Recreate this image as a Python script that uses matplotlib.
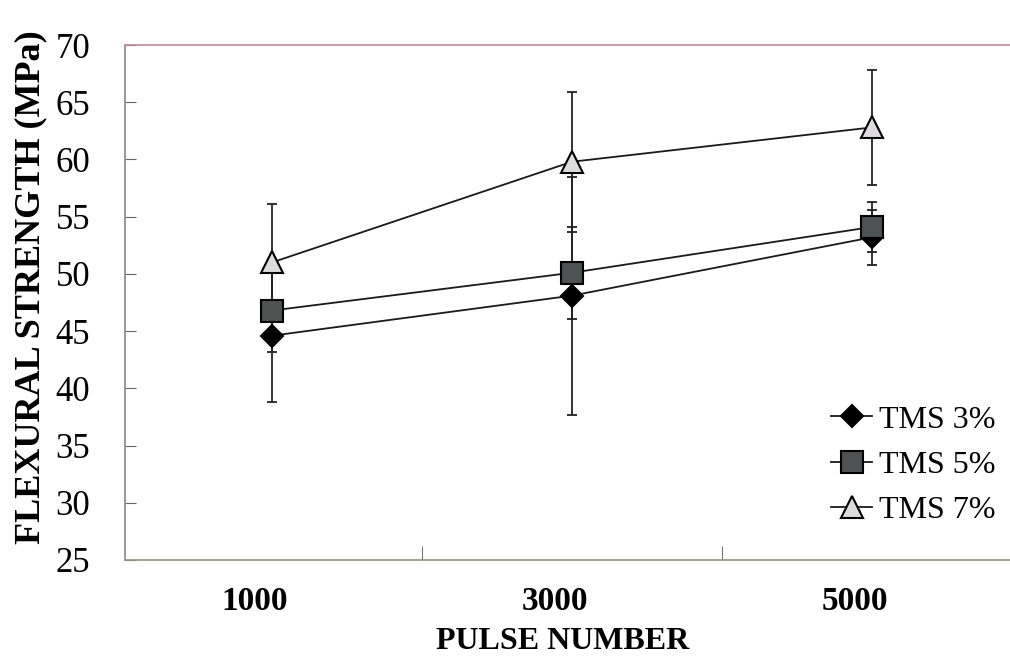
import matplotlib
matplotlib.use("Agg")
import matplotlib.pyplot as plt
import matplotlib.transforms as mtransforms

plt.rcParams['font.family'] = ['Liberation Serif', 'DejaVu Serif']

# data
pulses = ["1000", "3000", "5000"]
series = ["TMS 3%", "TMS 5%", "TMS 7%"]
tms3 = [44.6, 48.1, 53.2]
tms3_err = [5.8, 10.4, 2.4]
tms5 = [46.8, 50.1, 54.1]
tms5_err = [3.6, 4.0, 2.2]
tms7 = [51.0, 59.8, 62.8]
tms7_err = [5.1, 6.1, 5.0]
yticks = [25, 30, 35, 40, 45, 50, 55, 60, 65, 70]

fig = plt.figure(figsize=(10.1, 6.7), dpi=100)
ax = fig.add_axes([125 / 1010, 110 / 670, 900 / 1010, 515 / 670])

x = list(range(len(pulses)))
styles = [
    dict(marker="D", ms=11.5, mfc="black"),
    dict(marker="s", ms=16, mfc="#4f5252"),
    dict(marker="^", ms=16, mfc="#dedbde"),
]
vals = [tms3, tms5, tms7]
errs = [tms3_err, tms5_err, tms7_err]

for v, e in zip(vals, errs):
    ax.errorbar(x, v, yerr=e, fmt="none", ecolor="#222222", elinewidth=1.3,
                capsize=3.8, capthick=1.3, zorder=1)
for v, st, name in zip(vals, styles, series):
    ax.plot(x, v, color="#1a1a1a", lw=1.3, mec="black", mew=1.5,
            label=name, zorder=3, **st)

ax.set_xlim(-0.49, 2.51)
ax.set_ylim(25, 70)
ax.set_yticks(yticks)
ax.set_xticks(x)
ax.set_xticklabels(pulses, fontsize=24, fontweight="bold")
ax.set_xticks([0.5, 1.5], minor=True)
ax.tick_params(axis="x", which="major", length=0, pad=19)
ax.tick_params(axis="x", which="minor", direction="in", length=10, color="#555555")
ax.tick_params(axis="y", direction="in", length=8, color="#666666", labelsize=25, pad=25)
shift = mtransforms.ScaledTranslation(-17 / 100, 0, fig.dpi_scale_trans)
for lab in ax.get_xticklabels():
    lab.set_transform(lab.get_transform() + shift)

ax.spines["top"].set_color("#c48a9a")
ax.spines["left"].set_color("#8a8390")
ax.spines["bottom"].set_color("#8c9a84")
ax.spines["right"].set_visible(False)
for s in ax.spines.values():
    s.set_linewidth(1.2)

ax.set_xlabel("PULSE NUMBER", fontsize=23, fontweight="bold")
ax.xaxis.set_label_coords(0.486, -0.13)
fig.text(0.031, 0.571, "FLEXURAL STRENGTH (MPa)", rotation=90, fontsize=26,
         fontweight="bold", ha="center", va="center")

ax.legend(loc="lower right", bbox_to_anchor=(1008 / 1010, 132 / 670),
          bbox_transform=fig.transFigure, frameon=False, fontsize=23,
          handlelength=1.3, handletextpad=0.2, labelspacing=0.5,
          borderaxespad=0)

fig.savefig("out.png", dpi=100)
